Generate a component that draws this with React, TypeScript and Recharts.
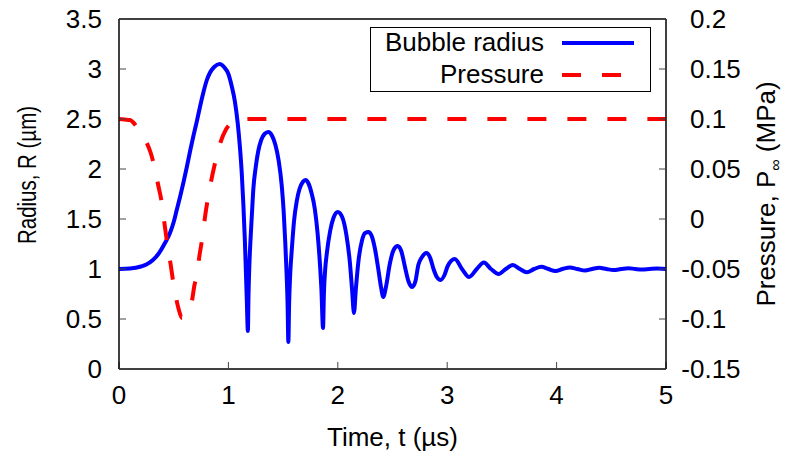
import React from "react";
import { LineChart, Line, XAxis, YAxis, Legend, ReferenceLine } from "recharts";

const FONT = '"Liberation Sans", Arial, Helvetica, sans-serif';

// Bubble radius R (µm) vs time t (µs)
const radiusT = [
  0, 0.1, 0.2, 0.25, 0.31, 0.36, 0.42, 0.466, 0.5, 0.53, 0.56, 0.59, 0.62, 0.65, 0.68, 0.71, 0.74, 0.77, 0.8, 0.83, 0.87, 0.92,
  0.96, 1.0, 1.03, 1.06, 1.085, 1.106, 1.122, 1.137, 1.15, 1.16, 1.168, 1.178,
  1.184, 1.192, 1.2, 1.215, 1.228, 1.25, 1.273, 1.3, 1.33, 1.365, 1.4, 1.43, 1.46, 1.487, 1.505, 1.52, 1.532, 1.541, 1.548,
  1.555, 1.565, 1.58, 1.6, 1.625, 1.65, 1.68, 1.705, 1.73, 1.76, 1.79, 1.815, 1.835, 1.85, 1.865,
  1.873, 1.885, 1.9, 1.93, 1.96, 2.0, 2.04, 2.08, 2.11, 2.13, 2.148,
  2.165, 2.19, 2.22, 2.25, 2.28, 2.31, 2.34, 2.37, 2.395, 2.416,
  2.44, 2.477, 2.51, 2.547, 2.58, 2.614, 2.645, 2.68, 2.71, 2.736, 2.77, 2.81, 2.845, 2.875, 2.905, 2.94, 2.975, 3.005,
  3.07, 3.135, 3.2, 3.27, 3.335, 3.4, 3.47, 3.535, 3.6, 3.665, 3.727, 3.795, 3.86, 3.925, 3.99, 4.055, 4.12, 4.19,
  4.26, 4.325, 4.39, 4.455, 4.52, 4.59, 4.655, 4.72, 4.78, 4.85, 4.92, 5.0,
];
const radiusR = [
  1.0, 1.005, 1.025, 1.045, 1.09, 1.15, 1.26, 1.36, 1.47, 1.6, 1.73, 1.87, 2.02, 2.18, 2.33, 2.47, 2.62, 2.76, 2.88, 2.96, 3.02, 3.05,
  3.02, 2.95, 2.83, 2.67, 2.46, 2.21, 1.96, 1.64, 1.3, 0.97, 0.7, 0.38,
  0.75, 1.05, 1.25, 1.55, 1.8, 2.02, 2.18, 2.29, 2.35, 2.37, 2.33, 2.24, 2.08, 1.84, 1.58, 1.26, 0.95, 0.65, 0.27,
  0.65, 0.95, 1.2, 1.48, 1.68, 1.8, 1.87, 1.89, 1.86, 1.76, 1.6, 1.36, 1.08, 0.8, 0.41,
  0.75, 1.0, 1.16, 1.38, 1.51, 1.57, 1.52, 1.33, 1.07, 0.8, 0.56,
  0.8, 1.09, 1.28, 1.36, 1.37, 1.33, 1.2, 1.0, 0.82, 0.72,
  0.82, 1.06, 1.19, 1.23, 1.18, 1.02, 0.88, 0.82, 0.88, 1.04, 1.12, 1.16, 1.11, 1.0, 0.92, 0.89, 0.94, 1.03,
  1.1, 1.0, 0.92, 1.0, 1.065, 1.0, 0.95, 1.0, 1.04, 1.0, 0.968, 1.0, 1.022, 1.0, 0.98, 1.0, 1.016, 1.0,
  0.985, 1.0, 1.012, 1.0, 0.99, 1.0, 1.008, 1.0, 0.995, 1.0, 1.004, 1.0,
];

// Far-field pressure P∞ (MPa) vs time t (µs)
const pressureT = [
  0, 0.05, 0.1, 0.15, 0.2, 0.25, 0.29, 0.32, 0.36, 0.39, 0.42, 0.45, 0.47, 0.5, 0.52, 0.545, 0.575, 0.61, 0.64, 0.665,
  0.69, 0.71, 0.735, 0.76, 0.79, 0.83, 0.88, 0.92, 0.98, 1.04, 1.1, 1.2, 5.0,
];
const pressureP = [
  0.1, 0.0995, 0.099, 0.094, 0.086, 0.077, 0.066, 0.054, 0.033, 0.017, -0.008, -0.031, -0.044, -0.066, -0.078, -0.09,
  -0.099, -0.096, -0.091, -0.083, -0.066, -0.057, -0.037, -0.02, 0.005, 0.031, 0.057, 0.074, 0.09, 0.097, 0.0995, 0.1, 0.1,
];

const xTicks = [0, 1, 2, 3, 4, 5];
const radiusTicks = [0, 0.5, 1, 1.5, 2, 2.5, 3, 3.5];
const pressureTicks = [-0.15, -0.1, -0.05, 0, 0.05, 0.1, 0.15, 0.2];

const radiusData = radiusT.map((t, i) => ({ t, r: radiusR[i] }));
const pressureData = pressureT.map((t, i) => ({ t, p: pressureP[i] }));

const LegendBox = (props: any) => {
  const payload = props.payload || [];
  return (
    <svg width={282} height={66} style={{ display: "block", overflow: "visible" }}>
      <rect x={0.5} y={0.5} width={280} height={64} fill="#fff" stroke="#000" strokeWidth={1} />
      {payload.map((entry: any, i: number) => {
        const cy = 16 + i * 32;
        const dash = entry.payload && entry.payload.strokeDasharray;
        return (
          <g key={i}>
            <text x={174} y={cy + 8} textAnchor="end" fontSize={26} fontFamily={FONT} fill="#000">
              {entry.value}
            </text>
            <line x1={192} x2={264} y1={cy} y2={cy} stroke={entry.color} strokeWidth={4} strokeDasharray={dash} />
          </g>
        );
      })}
    </svg>
  );
};

const RightTick = (props: any) => {
  const { x, y, payload } = props;
  const v = payload.value;
  const neg = v < 0;
  return (
    <text x={x - (neg ? 8.7 : 0)} y={y} dy="0.355em" textAnchor="start" fontSize={26} fontFamily={FONT} fill="#000">
      {String(v)}
    </text>
  );
};

export default function App() {
  return (
    <div style={{ position: "absolute", left: 0, top: 0, width: 786, height: 456, background: "#fff" }}>
      <LineChart
        width={786}
        height={456}
        margin={{ top: 19, right: 0, bottom: 0, left: 0 }}
        style={{ fontFamily: FONT }}
      >
        <XAxis
          dataKey="t"
          type="number"
          domain={[0, 5]}
          ticks={xTicks}
          allowDataOverflow
          height={87}
          tickSize={-7}
          tickMargin={24}
          axisLine={{ stroke: "#000", strokeWidth: 1.5 }}
          tickLine={{ stroke: "#444", strokeWidth: 1 }}
          tick={{ fill: "#000", fontSize: 26, fontFamily: FONT }}
          label={{
            content: () => (
              <text x={392.5} y={446} textAnchor="middle" fontSize={26} fontFamily={FONT} fill="#000">
                Time, t (µs)
              </text>
            ),
          }}
        />
        <YAxis
          yAxisId="left"
          domain={[0, 3.5]}
          ticks={radiusTicks}
          allowDataOverflow
          width={119}
          tickSize={-7}
          tickMargin={24}
          axisLine={{ stroke: "#000", strokeWidth: 1.5 }}
          tickLine={{ stroke: "#444", strokeWidth: 1 }}
          tick={{ fill: "#000", fontSize: 26, fontFamily: FONT }}
          label={{
            content: () => (
              <text
                transform="translate(27,175) rotate(-90)"
                textAnchor="middle"
                dy="0.35em"
                fontSize={26}
                fontFamily={FONT}
                fill="#000"
                textLength={138}
                lengthAdjust="spacingAndGlyphs"
              >
                Radius, R (µm)
              </text>
            ),
          }}
        />
        <YAxis
          yAxisId="right"
          orientation="right"
          domain={[-0.15, 0.2]}
          ticks={pressureTicks}
          allowDataOverflow
          width={120}
          tickSize={-7}
          tickMargin={31}
          axisLine={{ stroke: "#000", strokeWidth: 1.5 }}
          tickLine={{ stroke: "#444", strokeWidth: 1 }}
          tick={<RightTick />}
          label={{
            content: () => (
              <text
                transform="translate(766,194) rotate(-90)"
                textAnchor="middle"
                dy="0.35em"
                fontSize={26}
                fontFamily={FONT}
                fill="#000"
              >
                <tspan>Pressure, P</tspan>
                <tspan fontSize={16} dy={6}>∞</tspan>
                <tspan dy={-6}> (MPa)</tspan>
              </text>
            ),
          }}
        />
        <ReferenceLine yAxisId="left" y={3.5} stroke="#000" strokeWidth={1.5} ifOverflow="visible" />
        <Line
          data={radiusData}
          dataKey="r"
          yAxisId="left"
          name="Bubble radius"
          type="monotone"
          stroke="#0000ff"
          strokeWidth={4}
          dot={false}
          activeDot={false}
          isAnimationActive={false}
        />
        <Line
          data={pressureData}
          dataKey="p"
          yAxisId="right"
          name="Pressure"
          type="monotone"
          stroke="#ff0000"
          strokeWidth={4}
          strokeDasharray="19 21"
          dot={false}
          activeDot={false}
          isAnimationActive={false}
        />
        <Legend
          layout="horizontal"
          verticalAlign="middle"
          align="center"
          wrapperStyle={{ position: "absolute", left: 370, top: 27, width: 282, height: 66, margin: 0, padding: 0 }}
          content={(p: any) => <LegendBox payload={p.payload} />}
        />
      </LineChart>
    </div>
  );
}
